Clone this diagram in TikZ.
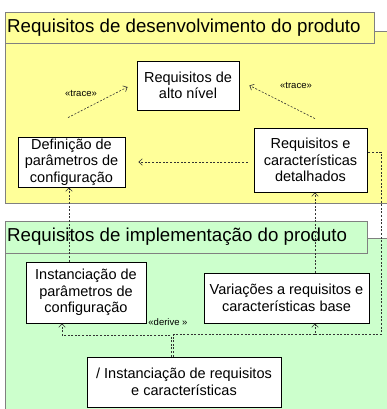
\documentclass[tikz,border=0pt]{standalone}
\usepackage{fontspec}
\setmainfont{Liberation Sans}
\usetikzlibrary{arrows.meta,positioning,calc}

\definecolor{devyellow}{HTML}{FFFF99}
\definecolor{impgreen}{HTML}{CCFFCC}
\definecolor{pkgborder}{HTML}{808080}
\definecolor{depline}{HTML}{333333}

\tikzset{
  reqbox/.style={draw,rectangle,fill=white,align=center,inner sep=1pt,
                 line width=0.8pt,font=\fontsize{14.5}{16.5}\selectfont},
  pkgline/.style={draw=pkgborder,line width=0.8pt},
  pkgtitle/.style={anchor=west,inner sep=0pt,font=\fontsize{18.7}{20}\selectfont},
  dep/.style={draw=depline,line width=0.6pt,dash pattern=on 2pt off 1.6pt,
              -{Straight Barb[length=3.5pt,width=6.5pt]}},
  depplain/.style={draw=depline,line width=0.6pt,dash pattern=on 2pt off 1.6pt},
  stereo/.style={inner sep=0pt,font=\fontsize{9.5}{11}\selectfont}
}

\begin{document}
\begin{tikzpicture}[x=1pt,y=1pt]
      \clip (0,0) rectangle (387,409);
      \fill[white] (0,0) rectangle (387,409);

      % packages
      \draw[pkgline,fill=devyellow] (5,206) rectangle (400,378);
      \draw[pkgline,fill=devyellow] (5,366) rectangle (374.5,397);
      \node[pkgtitle] (devtitle) at (7,381.5) {Requisitos de desenvolvimento do produto};

      \draw[pkgline,fill=impgreen] (5,-10) rectangle (400,171);
      \draw[pkgline,fill=impgreen] (5,156) rectangle (367,188);
      \node[pkgtitle] (imptitle) at (7,172) {Requisitos de implementação do produto};

      % requirements
      \node[reqbox,minimum width=102pt,minimum height=49pt] (high)   at (188,323.5)
            {Requisitos de\\alto nível};
      \node[reqbox,minimum width=107pt,minimum height=50pt] (defn)   at (71.5,247)
            {Definição de\\parâmetros de\\configuração};
      \node[reqbox,minimum width=113pt,minimum height=64pt] (detail) at (310.5,249)
            {Requisitos e\\características\\detalhados};
      \node[reqbox,minimum width=120pt,minimum height=61pt] (inst)   at (86,116.5)
            {Instanciação de\\parâmetros de\\configuração};
      \node[reqbox,minimum width=165pt,minimum height=50pt] (var)    at (286.5,111)
            {Variações a requisitos e\\características base};
      \node[reqbox,minimum width=194pt,minimum height=50pt] (slash)  at (184,27)
            {/ Instanciação de requisitos\\e características};

      % trace
      \draw[dep] ($(defn.north)+(-3.5,19)$) -- ($(high.west)+(-9,-1.5)$);
      \node[stereo] (trace1) at (81,316) {«trace»};
      \draw[dep] ($(detail.north)+(4.5,9)$) -- ($(high.east)+(10,0)$);
      \node[stereo] (trace2) at (296,324) {«trace»};
      \draw[dep] ($(detail.west)+(-6,-2)$) -- ($(defn.east)+(13,0)$);

      % refinement
      \draw[dep] ([xshift=-17pt]inst.north) -- ([xshift=-17pt]inst.north |- defn.south);
      \draw[dep] ([xshift=28.5pt]var.north) -- ([xshift=28.5pt]var.north |- detail.south);

      % derive
      \coordinate (splitL) at ($(slash.north)+(-13,21)$);
      \coordinate (splitR) at ($(slash.north)+(-11,22)$);
      \coordinate (corner) at (381,73);
      \draw[dep] ([xshift=-13pt]slash.north) -- (splitL) -| ([xshift=-24pt]inst.south);
      \draw[dep] ([xshift=-11pt]slash.north) -- (splitR) -| ([xshift=28.5pt]var.south);
      \draw[depplain] ([xshift=28.5pt]var.south |- splitR) -- (splitR -| corner)
            |- ($(detail.east)+(0,8)$);
      \node[stereo] (derive) at (168,87) {«derive »};
\end{tikzpicture}
\end{document}
